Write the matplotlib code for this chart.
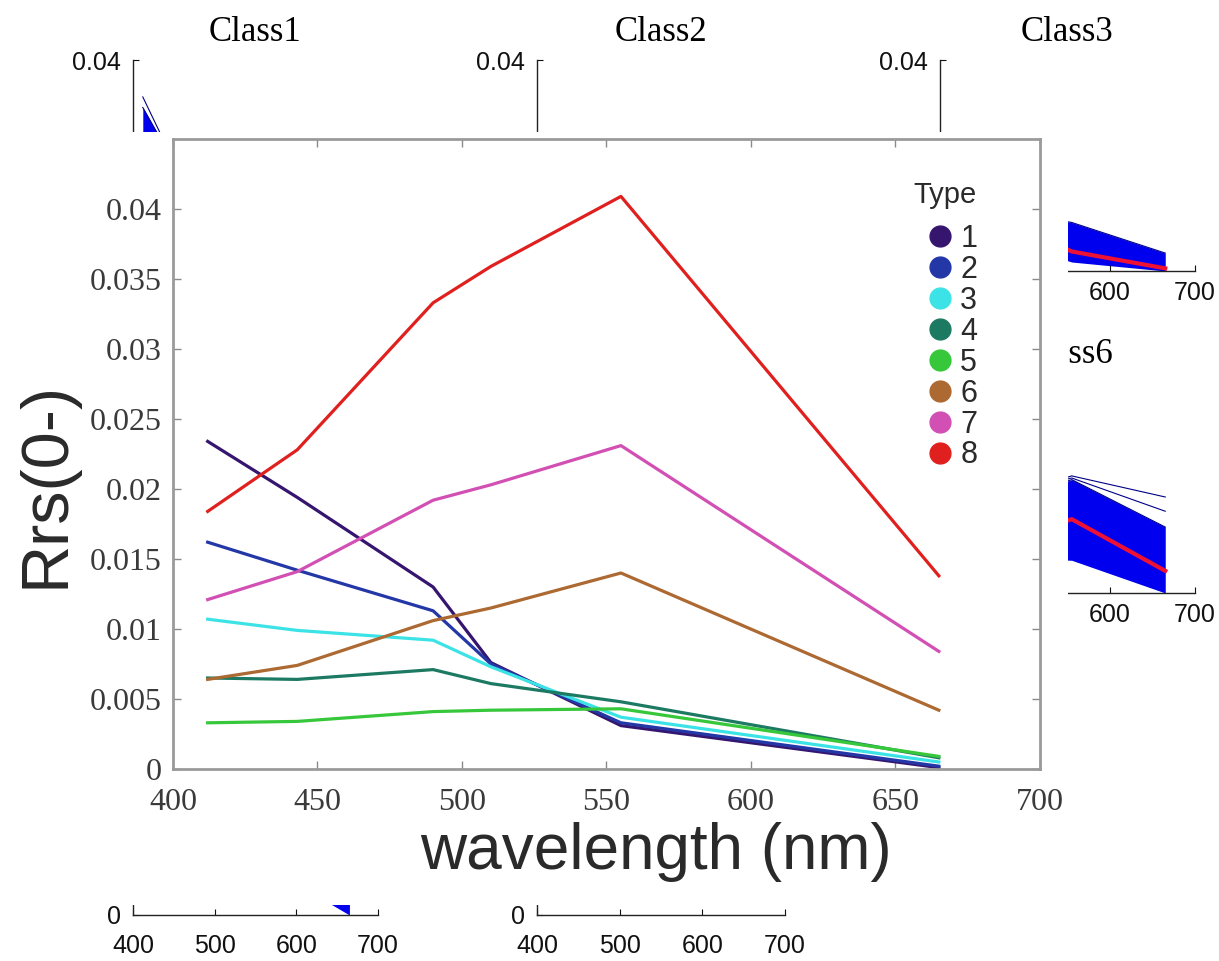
import matplotlib.pyplot as plt
from matplotlib.lines import Line2D

W, H = 1219, 961

wavelength = [412, 443, 490, 510, 555, 665]

rrs_type1 = [0.0234, 0.0194, 0.0130, 0.0076, 0.0031, 0.0001]
rrs_type2 = [0.0162, 0.0142, 0.0113, 0.0075, 0.0033, 0.0002]
rrs_type3 = [0.0107, 0.0099, 0.0092, 0.0073, 0.0037, 0.0005]
rrs_type4 = [0.0065, 0.0064, 0.0071, 0.0061, 0.0048, 0.0008]
rrs_type5 = [0.0033, 0.0034, 0.0041, 0.0042, 0.0043, 0.0009]
rrs_type6 = [0.0064, 0.0074, 0.0106, 0.0115, 0.0140, 0.0042]
rrs_type7 = [0.0121, 0.0141, 0.0192, 0.0203, 0.0231, 0.0084]
rrs_type8 = [0.0184, 0.0228, 0.0333, 0.0359, 0.0409, 0.0138]

type_labels = ['1', '2', '3', '4', '5', '6', '7', '8']
type_colors = ['#36156f', '#2437a6', '#3ce3e6', '#1d7a62', '#36c83a',
               '#ad6932', '#d24fb4', '#e0201e']

# envelopes of the class bundles drawn behind the panel
class1_low = [0.016, 0.013, 0.009, 0.005, 0.0022, 0.0]
class1_high = [0.031, 0.0225, 0.016, 0.010, 0.0055, 0.0012]
class1_max = [0.033, 0.023, 0.017, 0.011, 0.006, 0.0015]
class3_low = [0.008, 0.007, 0.006, 0.004, 0.0017, 0.0]
class3_high = [0.014, 0.013, 0.012, 0.0105, 0.0092, 0.0034]
class6_low = [0.003, 0.004, 0.006, 0.0065, 0.0062, 0.0]
class6_high = [0.010, 0.012, 0.017, 0.019, 0.0215, 0.0125]
class6_out1 = [0.011, 0.013, 0.018, 0.020, 0.0222, 0.0182]
class6_out2 = [0.011, 0.013, 0.018, 0.020, 0.0218, 0.0155]
class7_low = [0.006, 0.007, 0.008, 0.009, 0.010, 0.0]
class7_high = [0.012, 0.013, 0.014, 0.015, 0.016, 0.003]

class_titles = ['Class1', 'Class2', 'Class3', 'Class4', 'Class5', 'Class6']

fig = plt.figure(figsize=(W / 100, H / 100), dpi=100)
fig.patch.set_facecolor('white')


def px_axes(x0, y_top, x1, y_bot, **kw):
    return fig.add_axes([x0 / W, (H - y_bot) / H, (x1 - x0) / W, (y_bot - y_top) / H], **kw)


# ---- background small panels (mostly hidden by the panel) ----
col_x = [(133, 378), (537, 785), (940, 1195)]
row_y = [(60, 271), (382, 593), (704, 915)]
ylabels_by_row = [['', '0.04'], ['', ''], ['0', '']]
bg = {}
for r, (yt, yb) in enumerate(row_y):
    for c, (xa, xb) in enumerate(col_x):
        if r == 2 and c == 2:
            continue
        ax = px_axes(xa, yt, xb, yb)
        ax.set_xlim(400, 700)
        ax.set_ylim(0, 0.04)
        ax.set_facecolor('none')
        for s in ['top', 'right']:
            ax.spines[s].set_visible(False)
        for s in ['left', 'bottom']:
            ax.spines[s].set_linewidth(1.0)
            ax.spines[s].set_color('#222222')
        ax.set_xticks([400, 500, 600, 700])
        ax.set_yticks([0, 0.04])
        if r < 2 and c < 2:
            # x labels sit under the panel
            ax.set_xticklabels([])
        ax.set_yticklabels(ylabels_by_row[r])
        ax.tick_params(direction='in', length=4, width=0.8,
                       labelsize=18, colors='#111111')
        ax.tick_params(axis='x', pad=7 if c == 2 else 14)
        ax.tick_params(axis='y', pad=9)
        for lab in ax.get_xticklabels() + ax.get_yticklabels():
            lab.set_family('Liberation Sans')
        if r < 2:
            ax.set_title(class_titles[r * 3 + c], fontsize=25,
                         family='Liberation Serif', pad=14)
        bg[(r, c)] = ax


def bundle(ax, low, high, mean, extra=()):
    ax.fill_between(wavelength, low, high, color='#0000ee', lw=0)
    ax.plot(wavelength, high, color='#000088', lw=0.8)
    for e in extra:
        ax.plot(wavelength, e, color='#000088', lw=0.8)
    if mean is not None:
        ax.plot(wavelength, mean, color='#ee1133', lw=3)


bundle(bg[(0, 0)], class1_low, class1_high, rrs_type1, [class1_max])
bundle(bg[(0, 2)], class3_low, class3_high, rrs_type3)
bundle(bg[(1, 2)], class6_low, class6_high, rrs_type6, [class6_out1, class6_out2])
bundle(bg[(2, 0)], class7_low, class7_high, None)

# ---- white overlay panel ----
panel = px_axes(8, 132, 1068, 905)
panel.set_facecolor('white')
panel.set_xticks([])
panel.set_yticks([])
for s in panel.spines.values():
    s.set_visible(False)
panel.set_zorder(5)

# ---- main chart ----
ax = px_axes(173, 139, 1040, 769)
ax.set_zorder(6)
ax.set_facecolor('white')

series = [rrs_type1, rrs_type2, rrs_type3, rrs_type4,
          rrs_type5, rrs_type6, rrs_type7, rrs_type8]
for vals, col in zip(series, type_colors):
    ax.plot(wavelength, vals, color=col, lw=2.3, solid_joinstyle='round')

ax.set_xlim(400, 700)
ax.set_ylim(0, 0.045)
ax.set_xticks([400, 450, 500, 550, 600, 650, 700])
ax.set_yticks([0, 0.005, 0.01, 0.015, 0.02, 0.025, 0.03, 0.035, 0.04])
ax.set_yticklabels(['0', '0.005', '0.01', '0.015', '0.02', '0.025',
                    '0.03', '0.035', '0.04'])
ax.tick_params(direction='in', length=6, width=1, top=True, right=True,
               labelsize=23, colors='#8a8a8a', labelcolor='#3a3a3a', pad=8)
ax.tick_params(axis='x', pad=14)
for lab in ax.get_xticklabels() + ax.get_yticklabels():
    lab.set_family('Liberation Serif')
for s in ax.spines.values():
    s.set_color('#9a9a9a')
    s.set_linewidth(2)

ax.set_xlabel('wavelength (nm)', fontsize=46, family='Liberation Sans',
              color='#2a2a2a')
ax.xaxis.set_label_coords(0.557, -0.084)
ax.set_ylabel('Rrs(0-)', fontsize=48, family='Liberation Sans',
              color='#2a2a2a')
ax.yaxis.set_label_coords(-0.110, 0.452)

ax.text(0.890, 0.911, 'Type', transform=ax.transAxes, ha='center',
        va='center', fontsize=21, family='Liberation Sans', color='#2a2a2a')
handles = [Line2D([], [], ls='none', marker='o', markersize=15,
                  markerfacecolor=c, markeredgecolor=c) for c in type_colors]
leg = ax.legend(handles, type_labels, loc='upper left',
                bbox_to_anchor=(0.864, 0.865), frameon=False,
                fontsize=22, labelspacing=0.03, handletextpad=0.05,
                handlelength=1.2, borderpad=0, borderaxespad=0)
for t in leg.get_texts():
    t.set_family('Liberation Sans')
    t.set_color('#2a2a2a')

fig.savefig('out.png', dpi=100)
